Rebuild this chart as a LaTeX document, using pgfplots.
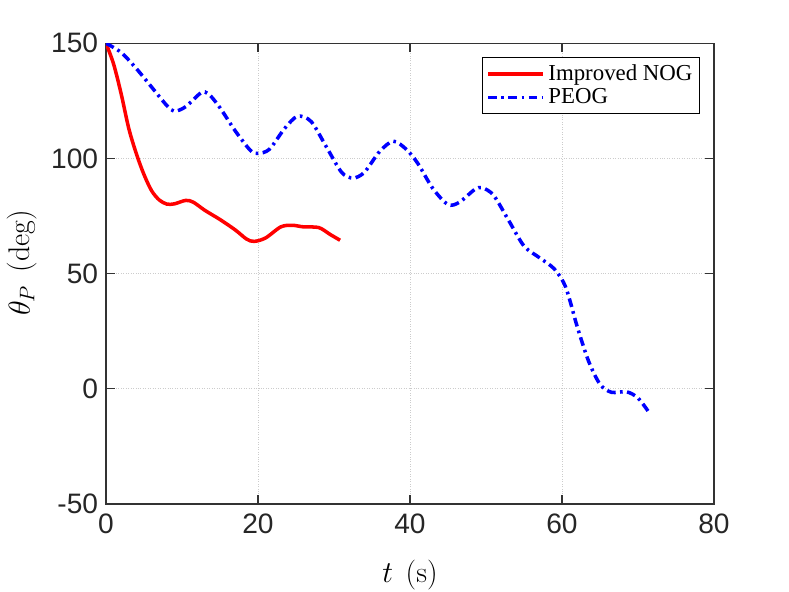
\documentclass[border=0pt]{standalone}
\usepackage{pgfplots}
\pgfplotsset{compat=1.18}
\usepackage{fontspec}
\newfontfamily\legfont{Liberation Serif}
\newfontfamily\tickfont{Liberation Sans}
\begin{document}
\begin{tikzpicture}
\path[use as bounding box] (0,0) rectangle (15.78cm,11.84cm);
\begin{axis}[
  at={(2.12cm,1.76cm)}, anchor=south west,
  width=12.16cm, height=9.214cm, scale only axis,
  xmin=0, xmax=80, ymin=-50, ymax=150,
  xtick={0,20,40,60,80}, ytick={-50,0,50,100,150},
  tick align=inside,
  major tick length=5pt,
  grid=major,
  major grid style={densely dotted, gray!40},
  axis line style={black!80, line width=0.6pt},
  every tick/.style={black!80, line width=0.6pt},
  /pgf/number format/assume math mode=true,
  ticklabel style={font=\tickfont\fontsize{16}{18}\selectfont, text=black!85},
  xticklabel style={yshift=-2pt},
  yticklabel style={xshift=-1pt},
  xlabel={$t$\hspace{0.12em} (s)}, ylabel={$\theta_P$\hspace{0.12em} (deg)},
  label style={font=\fontsize{17}{19}\selectfont},
  xlabel style={yshift=-8pt},
  ylabel style={yshift=1pt, xshift=6pt},
  legend style={at={(0.977,0.9696)}, anchor=north east, font=\legfont\fontsize{13}{15}\selectfont,
    draw=black, line width=0.6pt, inner sep=2pt, row sep=-1pt, cells={anchor=west}},
  legend cell align=left,
  legend image code/.code={\draw[#1, line width=2pt] (0cm,0cm) -- (1.1cm,0cm);},
]
\addplot[red, line width=2pt, smooth, tension=0.5] coordinates {
(0,150)(1,141)(2,128)(3,113)(4,102)(5,93)(6,86)(7,82)(8,80.2)(9,80.3)(10.5,81.8)(11.5,81)(13,77.5)(15,73.5)(17,69)(18.5,65)(19.5,64)(21,65.5)(23,70.3)(24.5,71)(26,70.3)(28,70)(29.5,67)(30.8,64.5)
};
\addlegendentry{Improved NOG}
\addplot[blue, line width=2pt, smooth, tension=0.5, dash pattern=on 5pt off 2.5pt on 1.5pt off 2.5pt] coordinates {
(0,150)(2,146)(4,139)(6,131)(8,123)(9,120.5)(10.5,122.5)(12.5,128.5)(13.5,128)(15,122)(17,112)(19,103.5)(20,102.2)(21.5,104)(23.5,113)(25.2,118.3)(27,116)(29,105)(31,94)(32.5,91.5)(34,94)(36,103)(37.8,107.5)(39.5,104)(41,98)(43,87)(45,80)(46.5,81)(48.5,86.5)(49.5,87.3)(51,84)(53,73)(55,62)(57,57)(59,52)(60.5,44)(62,27)(63.5,12)(65,2)(66.5,-1.5)(68.5,-1.3)(70,-4)(71.5,-10.5)
};
\addlegendentry{PEOG}
\end{axis}
\end{tikzpicture}
\end{document}
